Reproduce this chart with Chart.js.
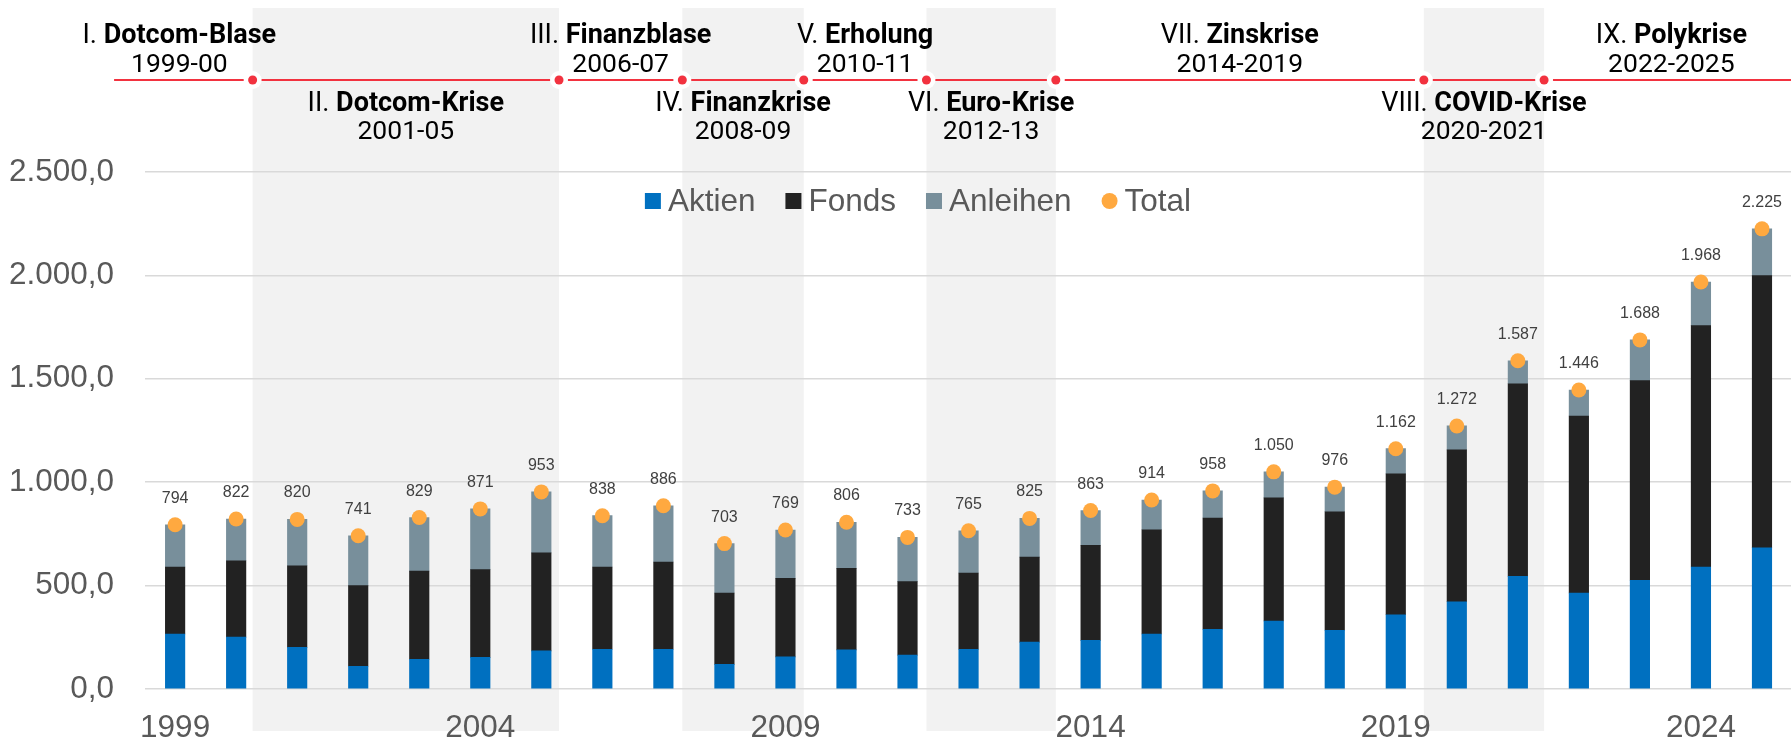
<!DOCTYPE html>
<html>
<head>
<meta charset="utf-8">
<script src="https://cdn.jsdelivr.net/npm/chart.js@4.4.1/dist/chart.umd.min.js"></script>
<style>
  html, body { margin: 0; padding: 0; background: #fff; overflow: hidden; }
  #wrap { width: 1800px; height: 760px; }
</style>
</head>
<body>
<div id="wrap"><canvas id="chart"></canvas></div>
<script>
// Daten
const years = ['1999','2000','2001','2002','2003','2004','2005','2006','2007','2008','2009','2010','2011','2012',
               '2013','2014','2015','2016','2017','2018','2019','2020','2021','2022','2023','2024','2025'];
const aktien = [266, 251, 201, 110, 144, 153, 184, 192, 192, 119, 155, 189, 164, 192,
                227, 235, 266, 289, 329, 284, 359, 422, 545, 464, 526, 590, 683];
const fonds = [324, 369, 395, 390, 426, 424, 474, 398, 422, 345, 380, 394, 355, 369,
               411, 460, 504, 538, 595, 573, 681, 734, 931, 856, 965, 1167, 1316];
const anleihen = [204, 202, 224, 241, 259, 294, 295, 248, 272, 239, 234, 223, 214, 204,
                  187, 168, 144, 131, 126, 119, 122, 116, 111, 126, 197, 211, 226];
const total = [794, 822, 820, 741, 829, 871, 953, 838, 886, 703, 769, 806, 733, 765,
               825, 863, 914, 958, 1050, 976, 1162, 1272, 1587, 1446, 1688, 1968, 2225];
const yTicks = [0, 500, 1000, 1500, 2000, 2500];

// Phasen oben
const periodNums = ['I.', 'II.', 'III.', 'IV.', 'V.', 'VI.', 'VII.', 'VIII.', 'IX.'];
const periodNames = ['Dotcom-Blase', 'Dotcom-Krise', 'Finanzblase', 'Finanzkrise', 'Erholung',
                     'Euro-Krise', 'Zinskrise', 'COVID-Krise', 'Polykrise'];
const periodYears = ['1999-00', '2001-05', '2006-07', '2008-09', '2010-11', '2012-13',
                     '2014-2019', '2020-2021', '2022-2025'];
// Grenzen der Phasen als (gebrochener) Kategorie-Index
const periodBreaks = [-1.0, 1.27, 6.29, 8.31, 10.3, 12.31, 14.43, 20.46, 22.43, 26.6];

const colors = { aktien: '#0070C0', fonds: '#222222', anleihen: '#788F9B', total: '#FFA940' };
const SANS = "'Liberation Sans', Arial, sans-serif";

function fmtDe(v, dec) {
  var s = v.toFixed(dec);
  var parts = s.split('.');
  var intPart = parts[0].replace(/\B(?=(\d{3})+(?!\d))/g, '.');
  return parts.length > 1 ? intPart + ',' + parts[1] : intPart;
}

// graue Baender hinter dem Diagramm
const bandPlugin = {
  id: 'bands',
  beforeDraw(chart) {
    const ctx = chart.ctx, xs = chart.scales.x;
    ctx.save();
    ctx.fillStyle = '#F2F2F2';
    for (let i = 1; i < periodNames.length; i += 2) {
      const x0 = xs.getPixelForValue(periodBreaks[i]);
      const x1 = xs.getPixelForValue(periodBreaks[i + 1]);
      ctx.fillRect(x0, 8, x1 - x0, 723);
    }
    ctx.restore();
  }
};

// Zeitleiste mit Phasen
const timelinePlugin = {
  id: 'timeline',
  afterDraw(chart) {
    const ctx = chart.ctx, xs = chart.scales.x;
    const lineY = 80;
    ctx.save();
    ctx.strokeStyle = '#F2323F';
    ctx.lineWidth = 2;
    ctx.beginPath();
    ctx.moveTo(xs.getPixelForValue(periodBreaks[0]), lineY);
    ctx.lineTo(chart.width, lineY);
    ctx.stroke();

    for (let i = 1; i < periodBreaks.length - 1; i++) {
      const x = xs.getPixelForValue(periodBreaks[i]);
      ctx.fillStyle = '#FFFFFF';
      ctx.beginPath(); ctx.arc(x, lineY, 9, 0, Math.PI * 2); ctx.fill();
      ctx.fillStyle = '#F2323F';
      ctx.beginPath(); ctx.arc(x, lineY, 4.5, 0, Math.PI * 2); ctx.fill();
    }

    ctx.fillStyle = '#000000';
    ctx.textBaseline = 'alphabetic';
    for (let i = 0; i < periodNames.length; i++) {
      const cx = (xs.getPixelForValue(periodBreaks[i]) + xs.getPixelForValue(periodBreaks[i + 1])) / 2 - (i === 0 ? 4 : 0);
      const up = i % 2 === 0;
      const y1 = up ? 43 : 111;
      const y2 = up ? 72 : 139;
      ctx.font = '27px Roboto';
      const w1 = ctx.measureText(periodNums[i] + ' ').width;
      ctx.font = 'bold 27px Roboto';
      const w2 = ctx.measureText(periodNames[i]).width;
      const x0 = cx - (w1 + w2) / 2;
      ctx.textAlign = 'left';
      ctx.font = '27px Roboto';
      ctx.fillText(periodNums[i] + ' ', x0, y1);
      ctx.font = 'bold 27px Roboto';
      ctx.fillText(periodNames[i], x0 + w1, y1);
      ctx.textAlign = 'center';
      ctx.font = '26.5px Roboto';
      ctx.fillText(periodYears[i], cx, y2);
    }
    ctx.restore();
  }
};

// Legende innerhalb der Flaeche
const legendPlugin = {
  id: 'innerLegend',
  afterDraw(chart) {
    const ctx = chart.ctx;
    const y = 201, box = 16, gap = 7, space = 30;
    ctx.save();
    ctx.font = '31.5px ' + SANS;
    const items = chart.data.datasets;
    let width = 0;
    items.forEach((ds, i) => {
      width += box + gap + ctx.measureText(ds.label).width + (i < items.length - 1 ? space : 0);
    });
    let x = 918 - width / 2;
    ctx.textBaseline = 'middle';
    ctx.textAlign = 'left';
    items.forEach(ds => {
      ctx.fillStyle = ds.backgroundColor;
      if (ds.type === 'line') {
        ctx.beginPath(); ctx.arc(x + box / 2, y, 8, 0, Math.PI * 2); ctx.fill();
      } else {
        ctx.fillRect(x, y - box / 2, box, box);
      }
      x += box + gap;
      ctx.fillStyle = '#595959';
      ctx.fillText(ds.label, x, y + 1);
      x += ctx.measureText(ds.label).width + space;
    });
    ctx.restore();
  }
};

// Werte ueber den Punkten
const valueLabelPlugin = {
  id: 'valueLabels',
  afterDatasetsDraw(chart) {
    const ctx = chart.ctx;
    const idx = chart.data.datasets.findIndex(d => d.type === 'line');
    const meta = chart.getDatasetMeta(idx);
    ctx.save();
    ctx.font = '16px ' + SANS;
    ctx.fillStyle = '#404040';
    ctx.textAlign = 'center';
    ctx.textBaseline = 'alphabetic';
    meta.data.forEach((pt, i) => {
      ctx.fillText(fmtDe(total[i], 0), pt.x, pt.y - 22);
    });
    ctx.restore();
  }
};

const ctx = document.getElementById('chart').getContext('2d');
const chart = new Chart(ctx, {
  type: 'bar',
  data: {
    labels: years,
    datasets: [
      { label: 'Aktien', data: aktien, backgroundColor: colors.aktien, stack: 'a', order: 1, barThickness: 19.5 },
      { label: 'Fonds', data: fonds, backgroundColor: colors.fonds, stack: 'a', order: 1, barThickness: 19.5 },
      { label: 'Anleihen', data: anleihen, backgroundColor: colors.anleihen, stack: 'a', order: 1, barThickness: 19.5 },
      { label: 'Total', type: 'line', data: total, stack: 't', order: 0, showLine: false,
        backgroundColor: colors.total, borderColor: colors.total,
        pointRadius: 7.5, pointBorderWidth: 0, pointHoverRadius: 7.5 }
    ]
  },
  options: {
    responsive: true,
    maintainAspectRatio: false,
    animation: false,
    layout: { padding: { left: 0, right: 3, top: 172, bottom: 11 } },
    plugins: {
      legend: { display: false },
      tooltip: { enabled: false }
    },
    scales: {
      x: {
        stacked: true,
        grid: { display: false, drawTicks: false },
        border: { display: false },
        ticks: {
          autoSkip: false,
          maxRotation: 0,
          padding: 20,
          color: '#595959',
          font: { family: SANS, size: 31.5 },
          callback: function(val, i) { return i % 5 === 0 ? years[i] : ''; }
        },
        afterFit: function(scale) { scale.height = 60; }
      },
      y: {
        stacked: true,
        min: yTicks[0],
        max: yTicks[yTicks.length - 1],
        afterBuildTicks: function(scale) { scale.ticks = yTicks.map(v => ({ value: v })); },
        grid: { color: '#D9D9D9', lineWidth: 1.5, drawTicks: false },
        border: { display: false },
        ticks: {
          padding: 30.6,
          color: '#595959',
          font: { family: SANS, size: 31.5 },
          callback: function(v) { return fmtDe(v, 1); }
        },
        afterFit: function(scale) { scale.width = 144.6; }
      }
    }
  },
  plugins: [bandPlugin, timelinePlugin, legendPlugin, valueLabelPlugin]
});
</script>
</body>
</html>
